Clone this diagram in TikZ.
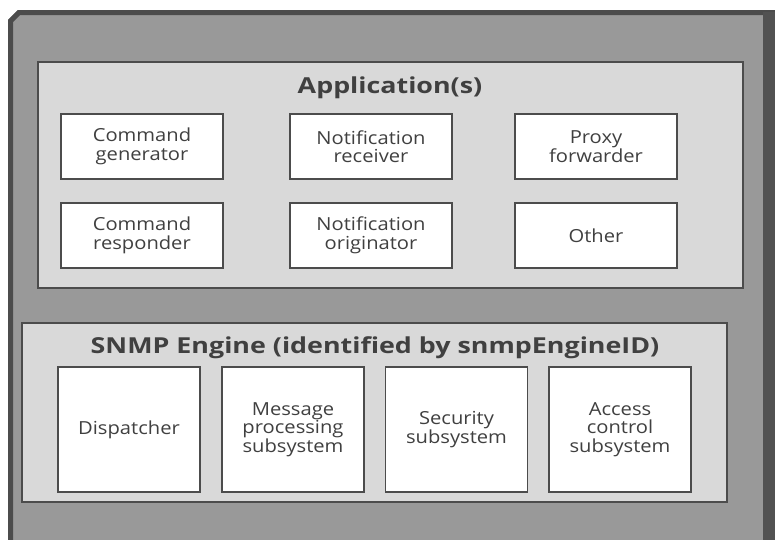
\documentclass[tikz,border=0pt]{standalone}
\usepackage{fontspec}
\setmainfont{Open Sans}
\newfontfamily\boxfont[FakeStretch=1.12]{Open Sans}
\newfontfamily\titlefont[FakeStretch=1.22]{Open Sans}
\begin{document}
\begin{tikzpicture}[x=1pt,y=-1pt,
    every node/.style={text=black!75},
    block/.style={draw=black!70,line width=1.2pt},
    module/.style={draw=black!70,line width=1.1pt,fill=white,align=center,
      font=\boxfont\fontsize{18}{18.5}\selectfont,inner sep=0pt},
    app/.style={module,minimum width=162pt,minimum height=65pt},
    eng/.style={module,minimum width=142pt,minimum height=125pt},
    title/.style={font=\titlefont\fontsize{22}{24}\selectfont\bfseries}]
  \useasboundingbox (0,0) rectangle (775,539);
  \clip (0,0) rectangle (775,539);
  % outer frame
  \fill[black!40] (8,20) -- (18,10) -- (775,10) -- (775,560) -- (8,560) -- cycle;
  \draw[line width=5pt,black!70] (10.5,560) -- (10.5,21) -- (19,12.5) -- (775,12.5);
  \fill[black!68] (763,12) rectangle (775,560);
  % application(s)
  \draw[block,fill=black!15] (38,62) rectangle (743,288);
  \node[title] (Apps) at (390,88) {Application(s)};
  \node[app] (CmdGen)  at (142,146.5) {Command\\generator};
  \node[app] (NotRecv) at (371,146.5) {Notification\\receiver};
  \node[app] (Proxy)   at (596,146.5) {Proxy\\forwarder};
  \node[app] (CmdResp) at (142,235.5) {Command\\responder};
  \node[app] (NotOrig) at (371,235.5) {Notification\\originator};
  \node[app] (Other)   at (596,235.5) {Other};
  % snmp engine
  \draw[block,fill=black!15] (22,323) rectangle (727,502);
  \node[title] (Engine) at (375,348) {SNMP Engine (identified by snmpEngineID)};
  \node[eng] (Disp) at (129,429.5) {Dispatcher};
  \node[eng] (MsgProc) at (293,429.5) {Message\\processing\\subsystem};
  \node[eng] (Sec) at (456.5,429.5) {Security\\subsystem};
  \node[eng] (Acc) at (620,429.5) {Access\\control\\subsystem};
\end{tikzpicture}
\end{document}
